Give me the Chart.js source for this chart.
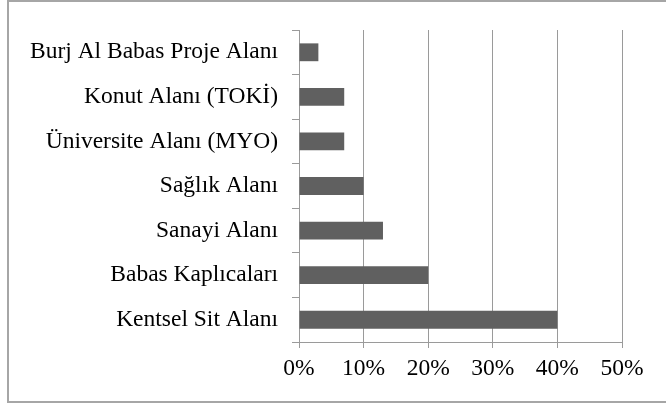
<!DOCTYPE html>
<html>
<head>
<meta charset="utf-8">
<script src="https://cdn.jsdelivr.net/npm/chart.js@4/dist/chart.umd.min.js"></script>
<style>
  html, body { margin: 0; padding: 0; background: #fff; }
  #wrap { position: relative; width: 666px; height: 403px; overflow: hidden; }
  #frame { position: absolute; left: 7px; top: 0px; width: 700px; height: 399px; border: 2px solid #a6a6a6; box-sizing: content-box; }
  canvas { position: absolute; left: 0; top: 0; }
</style>
</head>
<body>
<div id="wrap">
  <div id="frame"></div>
  <canvas id="bar" width="666" height="403"></canvas>
</div>
<script>
// categories, top to bottom
var labels = ["Burj Al Babas Proje Alanı", "Konut Alanı (TOKİ)", "Üniversite Alanı (MYO)",
              "Sağlık Alanı", "Sanayi Alanı", "Babas Kaplıcaları", "Kentsel Sit Alanı"];
// percentages
var values = [3, 7, 7, 10, 13, 20, 40];
var xTicks = [0, 10, 20, 30, 40, 50];

var gridGray = "#9a9a9a";
var serif = "'Liberation Serif', 'Times New Roman', serif";

var ctx = document.getElementById('bar');
var myChart = new Chart(ctx, {
  type: 'bar',
  data: {
    labels: labels,
    datasets: [{
      data: values,
      backgroundColor: "#606060",
      borderWidth: 0,
      categoryPercentage: 1.0,
      barPercentage: 0.4
    }]
  },
  options: {
    indexAxis: 'y',
    responsive: false,
    animation: false,
    layout: { padding: { left: 0, top: 30, right: 44, bottom: 0 } },
    plugins: { legend: { display: false }, tooltip: { enabled: false } },
    scales: {
      x: {
        min: xTicks[0],
        max: xTicks[xTicks.length - 1],
        afterBuildTicks: function (s) { s.ticks = xTicks.map(function (v) { return { value: v }; }); },
        grid: { color: gridGray, lineWidth: 1, tickLength: 6 },
        border: { color: gridGray, width: 1 },
        ticks: {
          color: "#000",
          font: { family: serif, size: 23.5 },
          padding: 7,
          maxRotation: 0,
          callback: function (v) { return v + "%"; }
        },
        afterFit: function (s) { s.height = 61; }
      },
      y: {
        grid: { display: true, drawOnChartArea: false, offset: true, color: gridGray, tickLength: 7 },
        border: { color: gridGray, width: 1 },
        ticks: {
          color: "#000",
          font: { family: serif, size: 23.5 },
          padding: 14
        },
        afterFit: function (s) { s.width = 299; }
      }
    }
  }
});
</script>
</body>
</html>
